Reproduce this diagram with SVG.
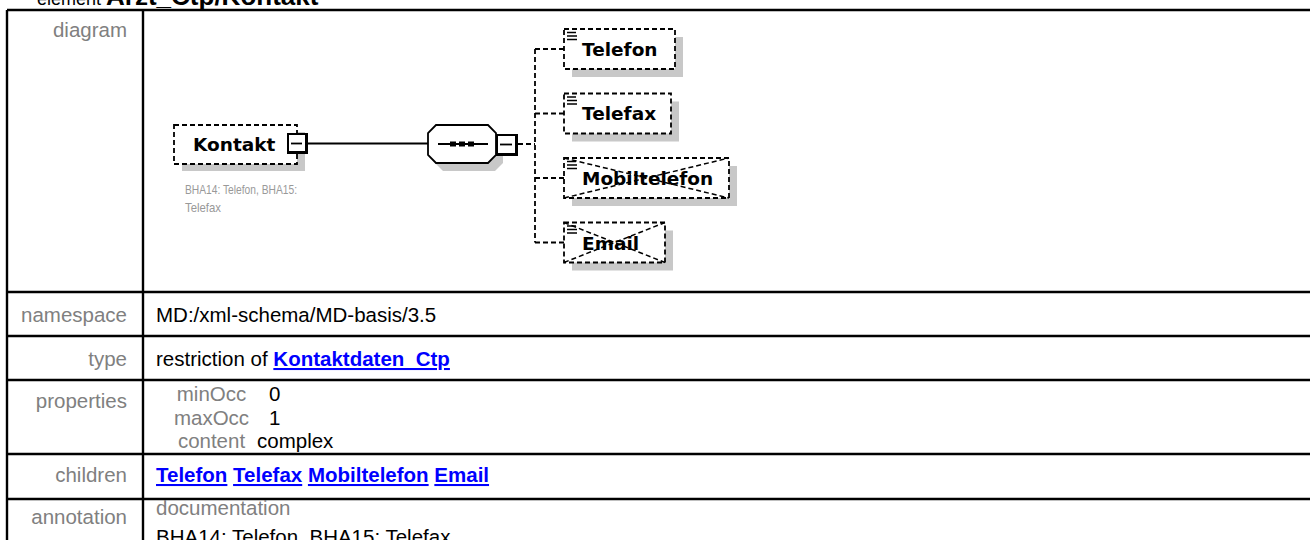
<svg xmlns="http://www.w3.org/2000/svg" width="1310" height="540" viewBox="0 0 1310 540">
<defs>
<style>
.lbl{font-family:"Liberation Sans",Arial,sans-serif;font-size:20.5px;fill:#808080}
.txt{font-family:"Liberation Sans",Arial,sans-serif;font-size:20.5px;fill:#000}
.lnk{font-weight:bold;fill:#0000ff;text-decoration:underline}
.grid{stroke:#000;stroke-width:2.4;fill:none}
.box{fill:#fff;stroke:#000;stroke-width:1.8;stroke-dasharray:5 3}
.shd{fill:#c8c8c8;stroke:none}
.name{font-family:"DejaVu Sans",Verdana,sans-serif;font-weight:bold;font-size:18.5px;fill:#000}
.ann{font-family:"Liberation Sans",Arial,sans-serif;font-size:13.5px;fill:#999}
.conn{stroke:#000;stroke-width:1.8;fill:none}
.dash{stroke-dasharray:5 3}
.icon{stroke:#000;stroke-width:1.3}
.cross{stroke:#000;stroke-width:1.5;stroke-dasharray:5 3}
</style>
</defs>
<rect width="1310" height="540" fill="#fff"/>
<text x="37" y="5" style="font-family:'Liberation Sans',Arial,sans-serif;font-size:18px;fill:#000">element <tspan font-weight="bold" font-size="26">Arzt_Ctp/Kontakt</tspan></text>

<g id="table">
<path class="grid" d="M7 10H1310M7 292H1310M7 336H1310M7 380H1310M7 454H1310M7 499H1310M7 10V540M143 10V540"/>
<text class="lbl" x="127" y="37" text-anchor="end">diagram</text>
<text class="lbl" x="127" y="322" text-anchor="end">namespace</text>
<text class="txt" x="156" y="322">MD:/xml-schema/MD-basis/3.5</text>
<text class="lbl" x="127" y="366" text-anchor="end">type</text>
<text class="txt" x="156" y="366">restriction of <tspan class="lnk">Kontaktdaten_Ctp</tspan></text>
<text class="lbl" x="127" y="408" text-anchor="end">properties</text>
<text class="lbl" x="211.5" y="401" text-anchor="middle">minOcc</text>
<text class="lbl" x="211.5" y="424.5" text-anchor="middle">maxOcc</text>
<text class="lbl" x="211.5" y="448" text-anchor="middle">content</text>
<text class="txt" x="269" y="401">0</text>
<text class="txt" x="269" y="424.5">1</text>
<text class="txt" x="257" y="448">complex</text>
<text class="lbl" x="127" y="482" text-anchor="end">children</text>
<text class="txt" x="156" y="482"><tspan class="lnk">Telefon</tspan> <tspan class="lnk">Telefax</tspan> <tspan class="lnk">Mobiltelefon</tspan> <tspan class="lnk">Email</tspan></text>
<text class="lbl" x="127" y="524" text-anchor="end">annotation</text>
<text class="lbl" x="156" y="515">documentation</text>
<text class="txt" x="156" y="544">BHA14: Telefon, BHA15: Telefax</text>
</g>

<g id="connectors">
<path class="conn" d="M308 143.5H428"/>
<path class="conn dash" d="M518 144H535M535 49V242.5M535 49H564M535 113.5H564M535 178H564M535 242.5H564"/>
</g>

<g id="Kontakt">
<rect class="shd" x="182" y="132" width="123" height="39"/>
<rect class="box" x="174" y="125" width="123" height="39"/>
<text class="name" x="193" y="151">Kontakt</text>
<rect x="287" y="133" width="21" height="21" fill="#000"/>
<rect x="289" y="135" width="16" height="16" fill="#fff"/>
<path class="conn" d="M291 143.5H302"/>
<text class="ann" x="185" y="194" textLength="112" lengthAdjust="spacingAndGlyphs">BHA14: Telefon, BHA15:</text>
<text class="ann" x="185" y="212" textLength="36" lengthAdjust="spacingAndGlyphs">Telefax</text>
</g>

<g id="sequence">
<polygon class="shd" points="443,133 495,133 503,141 503,163 495,171 443,171 435,163 435,141"/>
<polygon points="436,125 488,125 496,133 496,155 488,163 436,163 428,155 428,133" fill="#fff" stroke="#000" stroke-width="1.8"/>
<path class="conn" d="M438 144H488" stroke-width="2"/>
<rect x="450" y="141.5" width="6" height="5" fill="#000"/>
<rect x="459" y="141.5" width="6" height="5" fill="#000"/>
<rect x="468" y="141.5" width="6" height="5" fill="#000"/>
<rect x="496" y="134" width="22" height="22" fill="#000"/>
<rect x="498" y="136" width="17" height="17" fill="#fff"/>
<path class="conn" d="M500 144.5H512"/>
</g>

<g id="Telefon">
<rect class="shd" x="572" y="37" width="111" height="40"/>
<rect class="box" x="564" y="29" width="111" height="40"/>
<path class="icon" d="M567 32.5H576M567 36H577M567 39.5H577"/>
<text class="name" x="582" y="56">Telefon</text>
</g>

<g id="Telefax">
<rect class="shd" x="572" y="101.5" width="107" height="40"/>
<rect class="box" x="564" y="93.5" width="107" height="40"/>
<path class="icon" d="M567 97H576M567 100.5H577M567 104H577"/>
<text class="name" x="582" y="120">Telefax</text>
</g>

<g id="Mobiltelefon">
<rect class="shd" x="572" y="166" width="165" height="40"/>
<rect class="box" x="564" y="158" width="165" height="40"/>
<path class="icon" d="M567 161.5H576M567 165H577M567 168.5H577"/>
<text class="name" x="582" y="185">Mobiltelefon</text>
<path class="cross" d="M564 158L729 198M564 198L729 158"/>
</g>

<g id="Email">
<rect class="shd" x="572" y="230.5" width="101" height="40"/>
<rect class="box" x="564" y="222.5" width="101" height="40"/>
<path class="icon" d="M567 226H576M567 229.5H577M567 233H577"/>
<text class="name" x="582" y="249.5">Email</text>
<path class="cross" d="M564 222.5L665 262.5M564 262.5L665 222.5"/>
</g>
</svg>
